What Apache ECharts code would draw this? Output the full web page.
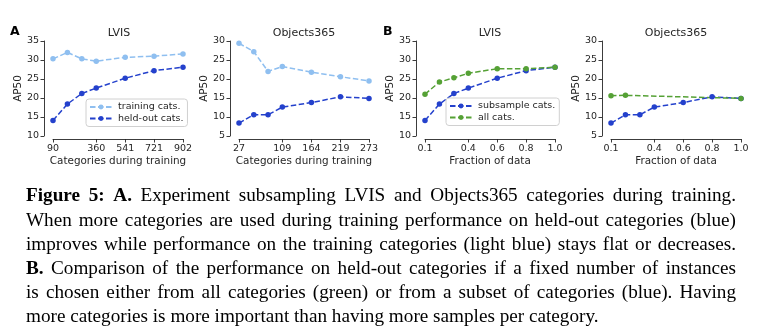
<!DOCTYPE html>
<html><head><meta charset="utf-8">
<script src="https://cdn.jsdelivr.net/npm/echarts@6/dist/echarts.min.js"></script>
<style>html,body{margin:0;padding:0;background:#fff}#c{width:767px;height:336px}</style>
</head><body><div id="c"></div>
<script>
// ---- data ----
const lvisCats = [90, 180, 270, 360, 541, 721, 902];
const o365Cats = [27, 55, 82, 109, 164, 219, 273];
const fractions = [0.1, 0.2, 0.3, 0.4, 0.6, 0.8, 1.0];
const o365AllFractions = [0.1, 0.2, 1.0];

const lvisTicks = [90, 360, 541, 721, 902];
const o365Ticks = [27, 109, 164, 219, 273];
const fracTicks = [0.1, 0.4, 0.6, 0.8, 1.0];

const lvisTrain = [30.3, 32.0, 30.3, 29.7, 30.7, 31.0, 31.6];
const lvisHeld  = [14.1, 18.4, 21.2, 22.6, 25.2, 27.2, 28.1];
const o365Train = [29.4, 27.2, 22.0, 23.3, 21.8, 20.6, 19.5];
const o365Held  = [8.4, 10.6, 10.6, 12.6, 13.8, 15.3, 14.9];
const lvisSub   = [14.1, 18.4, 21.2, 22.6, 25.2, 27.2, 28.1];
const lvisAll   = [21.0, 24.2, 25.3, 26.5, 27.7, 27.7, 28.1];
const o365Sub   = [8.4, 10.6, 10.6, 12.6, 13.8, 15.3, 14.9];
const o365All   = [15.6, 15.7, 14.9];

const panelTitles = ['LVIS', 'Objects365', 'LVIS', 'Objects365'];
const captionLines = [
  'Figure 5: A. Experiment subsampling LVIS and Objects365 categories during training.',
  'When more categories are used during training performance on held-out categories (blue)',
  'improves while performance on the training categories (light blue) stays flat or decreases.',
  'B. Comparison of the performance on held-out categories if a fixed number of instances',
  'is chosen either from all categories (green) or from a subset of categories (blue).  Having',
  'more categories is more important than having more samples per category.'
];
const captionBoldWords = [['Figure', '5:', 'A.'], [], [], ['B.'], [], []];

// ---- styles ----
const SANS = '"DejaVu Sans", sans-serif';
const SERIF = '"Liberation Serif", "Times New Roman", serif';
const AXC = '#262626';
const LIGHT = '#8fbff0';
const BLUE = '#2441cc';
const GREEN = '#55a135';

const chart = echarts.init(document.getElementById('c'), null, {renderer: 'canvas'});

const gridLefts = [53, 239, 425, 611];
const grids = gridLefts.map(l => ({left: l, top: 41, width: 130, height: 95}));

function xAxis(gi, min, max, ticks, name, fmt) {
  return {
    type: 'value', gridIndex: gi, min: min, max: max, offset: 3,
    name: name, nameLocation: 'middle', nameGap: 17,
    nameTextStyle: {fontSize: 10.4, fontFamily: SANS, color: AXC},
    axisLine: {lineStyle: {color: AXC, width: 0.9}},
    axisTick: {customValues: ticks, length: 3.5, lineStyle: {color: AXC, width: 0.9}},
    axisLabel: {customValues: ticks, margin: 4.5, fontSize: 9.5, fontFamily: SANS, color: AXC, formatter: fmt},
    splitLine: {show: false}
  };
}
function yAxis(gi, min, max) {
  return {
    type: 'value', gridIndex: gi, min: min, max: max, interval: 5, offset: 9,
    name: 'AP50', nameLocation: 'middle', nameGap: 20,
    nameTextStyle: {fontSize: 10.4, fontFamily: SANS, color: AXC},
    axisLine: {show: true, lineStyle: {color: AXC, width: 0.9}},
    axisTick: {show: true, length: 3.5, lineStyle: {color: AXC, width: 0.9}},
    axisLabel: {margin: 5, fontSize: 9.5, fontFamily: SANS, color: AXC},
    splitLine: {show: false}
  };
}
const intFmt = v => String(Math.round(v));
const fracFmt = v => v.toFixed(1);

function series(name, xs, ys, gi, color) {
  return {
    type: 'line', name: name, xAxisIndex: gi, yAxisIndex: gi,
    data: xs.map((x, i) => [x, ys[i]]),
    symbol: 'circle', symbolSize: 5.5, showSymbol: true,
    lineStyle: {color: color, width: 1.5, type: [5.5, 2.5]},
    itemStyle: {color: color},
    emphasis: {disabled: true}, animation: false, z: 3
  };
}

function legend(names, left, top) {
  return {
    data: names, left: left, top: top, orient: 'vertical',
    itemWidth: 22, itemHeight: 6, itemGap: 1.5,
    padding: [3, 4, 3, 3],
    borderColor: '#d0d0d0', borderWidth: 1, borderRadius: 3,
    backgroundColor: 'rgba(255,255,255,0.8)',
    textStyle: {fontSize: 9.5, fontFamily: SANS, color: AXC, padding: [0, 0, 0, 1]},
    selectedMode: false
  };
}

// ---- graphics: titles, panel letters, caption ----
const graphics = [];
panelTitles.forEach((t, i) => {
  graphics.push({type: 'text', x: gridLefts[i] + 65 + (i === 0 ? 1 : 0), y: 33,
    style: {text: t, font: '11px ' + SANS, fill: AXC, align: 'center', verticalAlign: 'middle'}});
});
graphics.push({type: 'text', x: 10, y: 32, style: {text: 'A', font: 'bold 12.5px ' + SANS, fill: '#000', align: 'left', verticalAlign: 'middle'}});
graphics.push({type: 'text', x: 383, y: 32, style: {text: 'B', font: 'bold 12.5px ' + SANS, fill: '#000', align: 'left', verticalAlign: 'middle'}});

const capSize = 19.2;
const capLeft = 26, capRight = 736;
const capY = [196, 220.5, 245, 269, 293, 317];
const ctx = document.createElement('canvas').getContext('2d');
captionLines.forEach((line, li) => {
  const words = line.split(/\s+/);
  const fonts = words.map(w => (captionBoldWords[li].indexOf(w) >= 0 ? 'bold ' : '') + capSize + 'px ' + SERIF);
  const widths = words.map((w, i) => { ctx.font = fonts[i]; return ctx.measureText(w).width; });
  const total = widths.reduce((a, b) => a + b, 0);
  const justify = li < captionLines.length - 1;
  ctx.font = capSize + 'px ' + SERIF;
  const gap = justify ? (capRight - capLeft - total) / (words.length - 1) : ctx.measureText(' ').width;
  let x = capLeft;
  words.forEach((w, i) => {
    graphics.push({type: 'text', x: x, y: capY[li],
      style: {text: w, font: fonts[i], fill: '#000', align: 'left', verticalAlign: 'middle'}});
    x += widths[i] + gap;
  });
});

chart.setOption({
  animation: false,
  grid: grids,
  xAxis: [
    xAxis(0, 90, 902, lvisTicks, 'Categories during training', intFmt),
    xAxis(1, 27, 273, o365Ticks, 'Categories during training', intFmt),
    xAxis(2, 0.1, 1.0, fracTicks, 'Fraction of data', fracFmt),
    xAxis(3, 0.1, 1.0, fracTicks, 'Fraction of data', fracFmt)
  ],
  yAxis: [yAxis(0, 10, 35), yAxis(1, 5, 30), yAxis(2, 10, 35), yAxis(3, 5, 30)],
  legend: [
    legend(['training cats.', 'held-out cats.'], 86, 99),
    legend(['subsample cats.', 'all cats.'], 446, 98)
  ],
  series: [
    series('training cats.', lvisCats, lvisTrain, 0, LIGHT),
    series('held-out cats.', lvisCats, lvisHeld, 0, BLUE),
    series('training cats.', o365Cats, o365Train, 1, LIGHT),
    series('held-out cats.', o365Cats, o365Held, 1, BLUE),
    series('subsample cats.', fractions, lvisSub, 2, BLUE),
    series('all cats.', fractions, lvisAll, 2, GREEN),
    series('subsample cats.', fractions, o365Sub, 3, BLUE),
    series('all cats.', o365AllFractions, o365All, 3, GREEN)
  ],
  graphic: graphics
});
</script>
</body></html>
